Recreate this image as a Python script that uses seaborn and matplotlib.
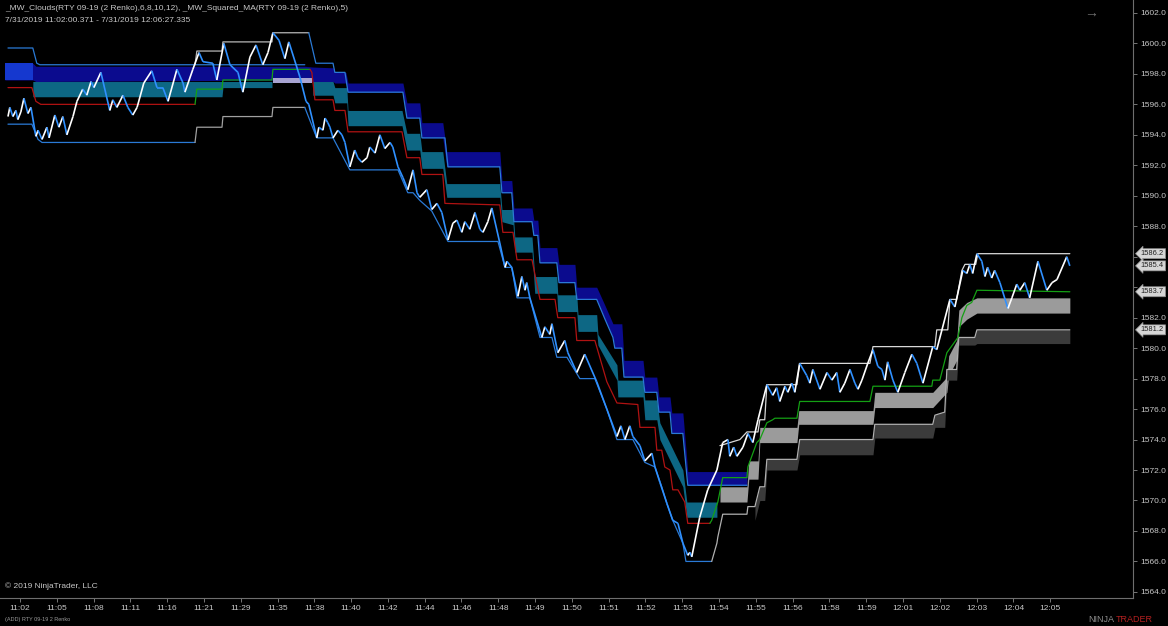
import numpy as np
import pandas as pd
import matplotlib
matplotlib.use('Agg')
import matplotlib.pyplot as plt
import matplotlib.transforms as mtransforms
from matplotlib.collections import LineCollection
import seaborn as sns

# ---- data (x = renko bar number, y = price) ----
TICK_LABELS = ['11:02', '11:05', '11:08', '11:11', '11:16', '11:21', '11:29', '11:35',
               '11:38', '11:40', '11:42', '11:44', '11:46', '11:48', '11:49', '11:50',
               '11:51', '11:52', '11:53', '11:54', '11:55', '11:56', '11:58', '11:59',
               '12:01', '12:02', '12:03', '12:04', '12:05']
BARS_PER_LABEL = 12

# renko close path, turning points
PRICE_BAR = [-3.9, -3.3, -2.3, -1.3, -0.7, 0.3, 1.3, 2.6, 3.6, 5.2, 5.9, 7.2, 8.8, 9.5, 11.4, 12.7,
             14.0, 15.3, 17.3, 18.6, 20.5, 21.8, 23.2, 24.1, 26.4, 29.3, 30.3, 31.6, 33.6, 35.2,
             36.8, 38.2, 40.4, 43.0, 44.7, 46.6, 48.3, 51.2, 53.2, 53.8, 56.4, 58.4, 59.7, 62.9,
             64.2, 66.5, 68.5, 71.1, 72.7, 75.0, 77.0, 79.2, 80.9, 82.5, 84.5, 86.4, 87.7, 91.3,
             93.3, 94.2, 96.8, 97.5, 98.8, 99.5, 100.4, 101.1, 102.1, 103.7, 105.0, 106.0, 107.6,
             109.2, 110.2, 111.5, 113.2, 114.1, 115.8, 117.4, 119.0, 120.7, 121.6, 123.3, 124.9,
             126.5, 128.2, 129.5, 130.4, 132.7, 134.3, 136.0, 137.6, 139.6, 141.2, 142.5, 144.1,
             145.1, 146.7, 148.4, 150.0, 151.0, 152.6, 153.9, 156.5, 158.2, 158.8, 160.4, 162.4,
             163.7, 164.7, 165.3, 166.3, 170.2, 171.2, 172.8, 173.5, 175.4, 177.7, 178.7, 181.6,
             184.2, 188.1, 191.4, 194.7, 196.0, 197.3, 198.9, 199.9, 202.2, 203.8, 206.1, 207.1,
             208.7, 211.0, 212.9, 214.6, 216.2, 217.8, 218.5, 219.1, 221.7, 224.3, 227.3, 229.2,
             230.9, 231.5, 232.8, 233.8, 235.8, 237.4, 239.0, 240.7, 243.6, 245.5, 246.8, 247.8,
             249.5, 250.4, 251.7, 252.7, 254.3, 256.6, 257.6, 258.6, 260.9, 263.2, 264.8, 266.4,
             267.4, 269.0, 270.7, 272.3, 273.3, 274.6, 276.5, 278.2, 279.8, 281.1, 282.1, 283.0,
             284.7, 286.3, 288.6, 290.9, 292.5, 294.5, 297.7, 299.0, 303.3, 304.9, 307.5, 308.8,
             309.8, 310.7, 312.1, 313.7, 314.7, 315.6, 316.9, 317.9, 319.6, 322.2, 323.5, 325.1,
             326.1, 327.7, 329.3, 332.0, 334.9, 336.6, 338.2, 341.4, 342.4]
PRICE_VAL = [1595.2, 1595.8, 1595.2, 1595.6, 1595.0, 1595.5, 1596.4, 1595.4, 1595.8, 1593.9, 1594.3,
             1593.7, 1594.5, 1593.8, 1595.3, 1594.5, 1595.2, 1594.0, 1595.2, 1596.2, 1597.0, 1596.6,
             1597.5, 1597.1, 1598.1, 1595.6, 1596.3, 1595.8, 1596.6, 1595.8, 1595.3, 1595.8, 1597.4,
             1598.2, 1597.1, 1597.1, 1596.2, 1598.3, 1597.4, 1596.8, 1598.3, 1599.4, 1598.8, 1598.7,
             1597.6, 1600.0, 1598.6, 1598.1, 1596.8, 1599.1, 1599.9, 1598.6, 1599.4, 1600.7, 1600.2,
             1599.0, 1600.1, 1597.8, 1596.2, 1596.0, 1593.8, 1594.5, 1594.3, 1595.1, 1594.8, 1594.5,
             1593.8, 1594.3, 1594.0, 1593.5, 1591.9, 1593.0, 1592.5, 1592.2, 1592.5, 1593.2, 1592.8,
             1594.0, 1593.1, 1593.5, 1593.2, 1591.9, 1591.2, 1590.4, 1591.7, 1590.2, 1589.9, 1590.4,
             1589.1, 1589.5, 1588.9, 1587.1, 1588.2, 1588.4, 1587.6, 1588.3, 1587.8, 1588.9, 1587.8,
             1587.6, 1588.3, 1589.2, 1586.9, 1585.3, 1585.7, 1585.3, 1583.4, 1584.7, 1583.8, 1584.3,
             1583.3, 1580.7, 1581.4, 1580.9, 1581.6, 1579.7, 1580.5, 1579.7, 1578.4, 1579.6, 1577.8,
             1576.0, 1574.2, 1574.9, 1574.0, 1574.9, 1574.2, 1573.6, 1572.6, 1573.1, 1572.2, 1571.2,
             1569.8, 1568.7, 1568.5, 1567.2, 1566.4, 1566.6, 1566.3, 1568.9, 1570.7, 1572.0, 1573.8,
             1574.0, 1572.9, 1573.5, 1572.9, 1573.5, 1574.4, 1573.8, 1575.3, 1577.6, 1576.9, 1577.4,
             1576.5, 1577.5, 1577.1, 1577.7, 1577.1, 1579.0, 1578.2, 1577.7, 1578.6, 1577.3, 1578.4,
             1577.9, 1578.4, 1577.1, 1577.7, 1578.6, 1577.7, 1577.3, 1577.9, 1579.0, 1579.9, 1578.8,
             1578.6, 1577.9, 1579.1, 1577.9, 1577.1, 1578.4, 1579.6, 1579.0, 1577.7, 1580.1, 1579.9,
             1583.2, 1582.7, 1585.1, 1584.9, 1585.5, 1584.9, 1586.2, 1585.7, 1584.7, 1585.3, 1584.6,
             1585.1, 1584.3, 1582.6, 1583.3, 1584.2, 1583.8, 1584.3, 1583.3, 1585.7, 1583.8, 1584.3,
             1584.5, 1586.0, 1585.4]

# upper channel line, split by colour
U_BLUE1_BAR = [-3.9, 4.2, 5.5, 6.5, 92.9]
U_BLUE1_VAL = [1599.7, 1599.7, 1598.7, 1598.6, 1598.6]
U_GRAY1_BAR = [57.1, 57.7, 65.9, 66.2, 82.2, 82.5, 94.2]
U_GRAY1_VAL = [1598.6, 1599.5, 1599.5, 1600.1, 1600.1, 1600.7, 1600.7]
U_BLUE2_BAR = [94.2, 96.5, 102.1, 102.7, 106.0, 107.0, 124.9, 126.2, 130.4, 131.1, 138.6, 139.6,
               156.5, 157.2, 160.4, 161.1, 167.0, 167.6, 168.9, 169.6, 175.1, 175.8, 181.0, 181.6,
               188.1, 190.8, 193.4, 194.0, 196.3, 197.0, 203.2, 203.8, 207.7, 208.4, 212.0, 212.6,
               216.2, 217.8, 237.1]
U_BLUE2_VAL = [1600.7, 1598.7, 1598.7, 1598.1, 1598.1, 1596.8, 1596.8, 1595.1, 1595.1, 1593.8,
               1593.8, 1591.9, 1591.9, 1590.2, 1590.2, 1588.3, 1588.3, 1587.4, 1587.4, 1585.6,
               1585.6, 1584.3, 1584.3, 1583.2, 1583.2, 1581.9, 1580.7, 1580.0, 1580.0, 1578.1,
               1578.1, 1577.1, 1577.1, 1575.8, 1575.8, 1574.4, 1574.4, 1571.0, 1571.0]
U_GRAY2_BAR = [228.3, 234.8, 237.1, 240.7, 241.3, 242.9, 243.6, 253.4, 254.3, 277.2, 278.2, 298.4,
               299.0, 302.6, 303.3, 305.5, 307.2, 308.2, 311.7, 312.4, 342.4]
U_GRAY2_VAL = [1573.6, 1574.0, 1574.5, 1574.5, 1575.3, 1575.3, 1577.6, 1577.6, 1579.0, 1579.0,
               1580.1, 1580.1, 1581.2, 1581.2, 1583.2, 1583.2, 1585.1, 1585.5, 1585.5, 1586.2, 1586.2]

# lower channel line
L_BLUE1_BAR = [-3.9, 3.9, 5.9, 7.2, 57.1]
L_BLUE1_VAL = [1594.7, 1594.7, 1593.7, 1593.5, 1593.5]
L_GRAY1_BAR = [57.1, 57.7, 65.9, 66.2, 82.2, 82.5, 92.9]
L_GRAY1_VAL = [1593.5, 1594.5, 1594.5, 1595.2, 1595.2, 1595.8, 1595.8]
L_BLUE2_BAR = [92.9, 96.8, 102.1, 107.6, 123.3, 126.5, 128.2, 130.4, 134.3, 139.6, 155.9, 158.2,
               160.4, 162.1, 166.3, 169.6, 173.5, 175.1, 178.4, 182.6, 187.5, 191.4, 194.7, 199.9,
               203.8, 207.1, 209.3, 211.0, 212.9, 216.2, 217.2, 225.6]
L_BLUE2_VAL = [1595.8, 1593.8, 1593.8, 1591.7, 1591.7, 1590.2, 1590.2, 1589.7, 1589.0, 1587.0,
               1587.0, 1585.3, 1585.3, 1583.3, 1583.3, 1580.7, 1580.7, 1579.4, 1579.4, 1578.0,
               1578.0, 1576.0, 1574.0, 1574.0, 1572.5, 1572.2, 1570.9, 1569.8, 1568.7, 1567.2,
               1566.0, 1566.0]
L_GRAY2_BAR = [225.6, 227.3, 227.6, 229.2, 237.1, 237.4, 239.7, 241.3, 242.9, 243.6, 253.4, 254.3,
               278.2, 278.8, 297.7, 298.4, 301.6, 302.3, 305.5, 306.2, 311.4, 312.1, 342.4]
L_GRAY2_VAL = [1566.0, 1567.2, 1567.6, 1569.1, 1569.1, 1569.6, 1569.6, 1570.9, 1570.9, 1572.7,
               1572.7, 1574.0, 1574.0, 1575.0, 1575.0, 1575.6, 1575.8, 1578.6, 1578.6, 1580.7,
               1580.7, 1581.2, 1581.2]

# squared MA (red when falling, green when rising)
MA_RED1_BAR = [-3.9, 3.9, 5.2, 6.8, 57.1]
MA_RED1_VAL = [1597.1, 1597.1, 1596.2, 1596.0, 1596.0]
MA_GREEN1_BAR = [57.1, 57.7, 65.9, 66.2, 82.2, 82.5, 94.6]
MA_GREEN1_VAL = [1596.0, 1597.0, 1597.0, 1597.6, 1597.6, 1598.3, 1598.3]
MA_RED2_BAR = [94.6, 95.2, 96.2, 102.1, 102.7, 106.0, 107.0, 124.6, 126.2, 130.4, 131.1, 137.9,
               138.6, 156.5, 157.5, 160.8, 162.1, 167.0, 169.6, 174.5, 175.4, 181.0, 181.6, 187.5,
               191.4, 194.7, 201.5, 202.2, 207.1, 207.7, 209.3, 210.3, 212.0, 212.9, 214.6, 216.8,
               217.8, 225.0]
MA_RED2_VAL = [1598.3, 1598.1, 1596.3, 1596.3, 1595.6, 1595.6, 1594.2, 1594.2, 1592.5, 1592.5,
               1591.4, 1591.4, 1589.5, 1589.4, 1587.6, 1587.6, 1585.8, 1585.8, 1583.2, 1583.2,
               1582.0, 1582.0, 1580.5, 1580.5, 1577.8, 1576.4, 1576.3, 1574.8, 1574.8, 1573.3,
               1573.3, 1572.2, 1572.0, 1570.7, 1570.7, 1569.9, 1568.5, 1568.5]
MA_GREEN2_BAR = [225.0, 225.6, 227.6, 229.2, 237.1, 237.4, 240.3, 241.3, 243.6, 245.5, 246.2, 253.4,
                 254.3, 277.2, 278.2, 297.4, 297.7, 300.0, 302.3, 305.9, 307.2, 308.8, 310.4, 312.1,
                 342.4]
MA_GREEN2_VAL = [1568.5, 1568.7, 1569.9, 1571.5, 1571.5, 1572.2, 1573.8, 1574.0, 1575.1, 1575.3,
                 1575.4, 1575.4, 1576.5, 1576.5, 1577.5, 1577.5, 1577.9, 1577.9, 1579.7, 1580.7,
                 1582.0, 1582.8, 1583.0, 1583.8, 1583.7]

# clouds: bar, top, bottom
NAVY_BAR = [-4.9, 4.2, 5.2, 92.9, 95.5, 102.1, 102.7, 106.3, 107.0, 124.9, 126.2, 130.4, 131.1,
            137.9, 139.2, 156.5, 157.2, 160.4, 161.1, 167.0, 167.6, 168.9, 169.6, 175.1, 175.8,
            181.0, 181.6, 188.1, 190.8, 193.4, 194.0, 196.3, 197.0, 203.2, 203.8, 207.7, 208.4,
            212.0, 212.6, 216.2, 217.8, 237.1]
NAVY_TOP = [1598.7, 1598.7, 1598.5, 1598.5, 1598.45, 1598.4, 1598.1, 1598.1, 1597.4, 1597.4,
            1596.1, 1596.1, 1594.8, 1594.8, 1592.9, 1592.9, 1591.0, 1591.0, 1589.2, 1589.2, 1588.4,
            1588.4, 1586.6, 1586.6, 1585.5, 1585.5, 1584.0, 1584.0, 1582.8, 1581.6, 1581.6, 1581.6,
            1579.2, 1579.2, 1578.1, 1578.1, 1576.8, 1576.8, 1575.75, 1575.75, 1571.9, 1571.9]
NAVY_BOT = [1597.6, 1597.6, 1597.5, 1597.6, 1597.5, 1597.5, 1597.4, 1597.4, 1596.8, 1596.8,
            1595.1, 1595.1, 1593.8, 1593.8, 1591.9, 1591.9, 1590.2, 1590.2, 1588.3, 1588.3, 1587.4,
            1587.4, 1585.6, 1585.6, 1584.3, 1584.3, 1583.2, 1583.2, 1581.9, 1580.7, 1580.0, 1580.0,
            1578.1, 1578.1, 1577.1, 1577.1, 1575.8, 1575.8, 1574.4, 1574.4, 1571.0, 1571.0]
BRIGHT_BAR = [-4.9, 4.2]
BRIGHT_TOP = [1598.7, 1598.7]
BRIGHT_BOT = [1597.6, 1597.6]

# teal cloud: sideways part, then the falling part
TEAL1_BAR = [4.2, 65.9, 66.2, 82.2]
TEAL1_TOP = [1597.5, 1597.5, 1597.5, 1597.5]
TEAL1_BOT = [1596.5, 1596.5, 1597.1, 1597.1]
TEAL2_BAR = [95.5, 102.1, 102.7, 106.6, 107.0, 124.6, 126.2, 130.4, 131.1, 137.9, 139.2, 156.5,
             157.2, 160.8, 161.4, 167.0, 167.9, 175.1, 175.4, 181.6, 182.0, 188.1, 188.5, 194.7,
             195.0, 203.2, 203.8, 207.7, 208.7, 216.2, 217.5, 227.3]
TEAL2_TOP = [1597.5, 1597.5, 1597.1, 1597.1, 1595.6, 1595.6, 1594.1, 1594.1, 1592.9, 1592.9,
             1590.8, 1590.8, 1589.1, 1589.1, 1587.3, 1587.3, 1584.7, 1584.7, 1583.5, 1583.5,
             1582.2, 1582.2, 1580.9, 1578.9, 1577.9, 1577.9, 1576.6, 1576.6, 1575.1, 1572.0,
             1569.9, 1569.9]
TEAL2_BOT = [1596.6, 1596.6, 1596.1, 1596.1, 1594.6, 1594.6, 1593.0, 1593.0, 1591.8, 1591.8,
             1589.9, 1589.9, 1588.3, 1588.1, 1586.3, 1586.3, 1583.6, 1583.6, 1582.4, 1582.4,
             1581.1, 1581.1, 1580.2, 1577.9, 1576.8, 1576.8, 1575.3, 1575.3, 1574.0, 1570.9,
             1568.9, 1568.9]
LAV_BAR = [82.5, 95.2]
LAV_TOP = [1597.7, 1597.7]
LAV_BOT = [1597.4, 1597.4]

LGRAY_BAR = [228.3, 237.1, 237.7, 240.7, 241.3, 253.4, 254.0, 278.2, 278.8, 297.7, 302.3, 302.9,
             305.5, 306.2, 308.8, 312.1, 342.4]
LGRAY_TOP = [1570.9, 1570.9, 1572.6, 1572.6, 1574.8, 1574.8, 1575.9, 1575.9, 1577.1, 1577.1,
             1578.1, 1579.5, 1580.5, 1582.5, 1583.0, 1583.3, 1583.3]
LGRAY_BOT = [1569.9, 1569.9, 1571.4, 1571.4, 1573.8, 1573.8, 1575.0, 1575.0, 1576.1, 1576.1,
             1577.1, 1578.2, 1579.2, 1581.4, 1581.9, 1582.3, 1582.3]

DGRAY_BAR = [239.7, 241.3, 242.9, 243.6, 253.4, 254.3, 278.2, 278.8, 297.7, 298.4, 301.6, 302.3,
             305.5, 306.2, 311.4, 312.1, 342.4]
DGRAY_TOP = [1569.6, 1570.9, 1570.9, 1572.7, 1572.7, 1574.0, 1574.0, 1575.0, 1575.0, 1575.6,
             1575.8, 1578.6, 1578.6, 1580.7, 1580.7, 1581.2, 1581.2]
DGRAY_BOT = [1568.7, 1570.0, 1570.0, 1572.0, 1572.0, 1573.0, 1573.0, 1574.1, 1574.1, 1574.8,
             1574.8, 1577.9, 1577.9, 1580.2, 1580.2, 1580.3, 1580.3]

LAST_LABELS = [1586.2, 1585.4, 1583.7, 1581.2]
HIDDEN_TICKS = [1586, 1584]   # covered by the flags on the price axis

TITLE_1 = '_MW_Clouds(RTY 09-19 (2 Renko),6,8,10,12), _MW_Squared_MA(RTY 09-19 (2 Renko),5)'
TITLE_2 = '7/31/2019 11:02:00.371 - 7/31/2019 12:06:27.335'

# ---- style ----
sns.set_style('dark')
plt.rcParams.update({
    'font.family': ['Liberation Sans', 'DejaVu Sans'],
    'axes.facecolor': 'black', 'figure.facecolor': 'black',
})
TXT = '#c8c8c8'
STEEL = '#2a7ad6'
W, H = 1168, 626

fig = plt.figure(figsize=(W / 100, H / 100), dpi=100)
ax = fig.add_axes([0.0, 28 / H, 1133 / W, 598 / H])
ax.set_facecolor('black')

# clouds
ax.fill_between(NAVY_BAR, NAVY_BOT, NAVY_TOP, color='#0b0b8e', lw=0)
ax.fill_between(BRIGHT_BAR, BRIGHT_BOT, BRIGHT_TOP, color='#1538cf', lw=0)
ax.fill_between(TEAL1_BAR, TEAL1_BOT, TEAL1_TOP, color='#0d6784', lw=0)
ax.fill_between(TEAL2_BAR, TEAL2_BOT, TEAL2_TOP, color='#0d6784', lw=0)
ax.fill_between(LAV_BAR, LAV_BOT, LAV_TOP, color='#a8a4d2', lw=0)
ax.fill_between(LGRAY_BAR, LGRAY_BOT, LGRAY_TOP, color='#9b9b9b', lw=0)
ax.fill_between(DGRAY_BAR, DGRAY_BOT, DGRAY_TOP, color='#3b3b3b', lw=0)

# indicator lines
lines = [
    (U_BLUE1_BAR, U_BLUE1_VAL, STEEL), (U_GRAY1_BAR, U_GRAY1_VAL, '#b8b8b8'),
    (U_BLUE2_BAR, U_BLUE2_VAL, STEEL), (U_GRAY2_BAR, U_GRAY2_VAL, '#d8d8d8'),
    (L_BLUE1_BAR, L_BLUE1_VAL, STEEL), (L_GRAY1_BAR, L_GRAY1_VAL, '#a0a0a0'),
    (L_BLUE2_BAR, L_BLUE2_VAL, STEEL), (L_GRAY2_BAR, L_GRAY2_VAL, '#b0b0b0'),
    (MA_RED1_BAR, MA_RED1_VAL, '#b01212'), (MA_GREEN1_BAR, MA_GREEN1_VAL, '#14a014'),
    (MA_RED2_BAR, MA_RED2_VAL, '#b01212'), (MA_GREEN2_BAR, MA_GREEN2_VAL, '#14a014'),
]
for xs, ys, col in lines:
    sns.lineplot(x=xs, y=ys, ax=ax, color=col, lw=0.9, estimator=None, sort=False)

# price: white on up moves, blue on down moves
df = pd.DataFrame({'bar': PRICE_BAR, 'price': PRICE_VAL})
pts = df[['bar', 'price']].to_numpy()
segs = np.stack([pts[:-1], pts[1:]], axis=1)
cols = ['#ffffff' if b > a else '#2f90ff' for a, b in zip(df['price'][:-1], df['price'][1:])]
ax.add_collection(LineCollection(segs, colors=cols, linewidths=1.2))

# axes
ax.set_xlim(-6.5, 363)
ax.set_ylim(1563.6, 1602.85)
ax.set_xticks(np.arange(len(TICK_LABELS)) * BARS_PER_LABEL)
ax.set_xticklabels(TICK_LABELS)
ax.yaxis.tick_right()
yt = np.arange(1564, 1603, 2)
ax.set_yticks(yt)
ax.set_yticklabels(['' if v in HIDDEN_TICKS else f'{v:.1f}' for v in yt])
ax.tick_params(colors='#8a8a8a', labelcolor=TXT, labelsize=6, length=3, width=0.6,
               bottom=True, right=True, left=False)
ax.tick_params(axis='x', pad=2)
ax.tick_params(axis='y', pad=2)
for s in ['left', 'top']:
    ax.spines[s].set_visible(False)
for s in ['right', 'bottom']:
    ax.spines[s].set_color('#6e6e6e')
    ax.spines[s].set_linewidth(0.8)
ax.grid(False)
ax.set_xlabel('')
ax.set_ylabel('')

# last value flags on the price axis
trans = mtransforms.blended_transform_factory(ax.transAxes, ax.transData)
for v in LAST_LABELS:
    ax.text(1.007, v, f'{v:.1f}', transform=trans, fontsize=5.4, color='#202020',
            va='center', ha='left', clip_on=False,
            bbox=dict(boxstyle='larrow,pad=0.2', fc='#d6d6d6', ec='#8c8c8c', lw=0.5))

# chart texts
fig.text(5 / W, 1 - 9 / H, TITLE_1, fontsize=6, color=TXT, va='center', ha='left')
fig.text(5 / W, 1 - 20 / H, TITLE_2, fontsize=6, color=TXT, va='center', ha='left')
fig.text(1084 / W, 1 - 13 / H, '\u2192', fontsize=10, color='#707070', va='center', ha='left')
fig.text(5 / W, 1 - 586 / H, '\u00a9 2019 NinjaTrader, LLC', fontsize=6, color=TXT,
         va='center', ha='left')
fig.text(5 / W, 1 - 619 / H, '(ADD) RTY 09-19 2 Renko', fontsize=4, color='#9a9a9a',
         va='center', ha='left')
fig.text(1088 / W, 1 - 620 / H, 'NINJA', fontsize=6.5, color='#8c8c8c', va='center', ha='left')
fig.text(1116 / W, 1 - 620 / H, 'TRADER', fontsize=6.5, color='#b32020', va='center', ha='left')

fig.savefig('out.png', dpi=100, facecolor='black')
